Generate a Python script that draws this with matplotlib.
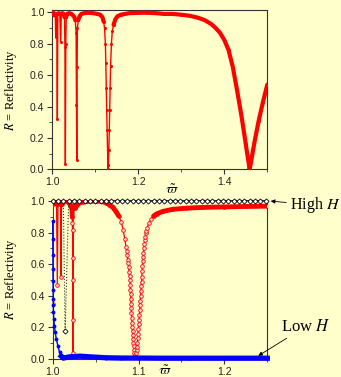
import numpy as np
import matplotlib
matplotlib.use('Agg')
import matplotlib.pyplot as plt
from matplotlib.ticker import MultipleLocator

# Fondo crema de la figura original
fondo = '#ffffcc'

plt.rcParams['font.family'] = ['Liberation Sans', 'DejaVu Sans']
plt.rcParams['mathtext.fontset'] = 'stix'

# Panel superior: reflectividad (una sola serie roja)
w1 = [1.000, 1.002, 1.004, 1.006, 1.0075, 1.0086, 1.0095, 1.011, 1.0124, 1.0135,
      1.016, 1.018, 1.0203, 1.0215, 1.024, 1.027, 1.029, 1.030, 1.031, 1.032,
      1.033, 1.035, 1.040, 1.045, 1.049, 1.052, 1.054, 1.056, 1.0568, 1.0576,
      1.0584, 1.059, 1.061, 1.064, 1.068, 1.075, 1.085, 1.095, 1.105, 1.112,
      1.117, 1.120, 1.122, 1.124, 1.125, 1.126, 1.127, 1.128, 1.129, 1.130,
      1.1305, 1.131, 1.132, 1.133, 1.134, 1.135, 1.136, 1.138, 1.140, 1.143,
      1.147, 1.152, 1.160, 1.180, 1.200, 1.220, 1.240, 1.260, 1.280, 1.300,
      1.320, 1.340, 1.355, 1.370, 1.380, 1.390, 1.400, 1.410, 1.420, 1.430,
      1.440, 1.450, 1.455, 1.459, 1.463, 1.470, 1.480, 1.490, 1.500]
r1 = [0.99, 1.0, 0.995, 0.98, 0.99, 0.845, 0.99, 0.99, 0.32, 0.99,
      0.995, 0.99, 0.81, 0.99, 0.995, 0.99, 0.97, 0.78, 0.034, 0.80,
      0.97, 0.99, 0.995, 0.99, 0.98, 0.97, 0.95, 0.87, 0.41, 0.06,
      0.65, 0.90, 0.95, 0.975, 0.99, 0.995, 0.998, 0.995, 0.99, 0.985,
      0.97, 0.94, 0.90, 0.80, 0.68, 0.52, 0.38, 0.25, 0.12, 0.03,
      0.0, 0.03, 0.12, 0.25, 0.38, 0.52, 0.66, 0.80, 0.88, 0.92,
      0.955, 0.975, 0.985, 0.995, 0.997, 0.998, 0.995, 0.99, 0.99, 0.985,
      0.978, 0.965, 0.95, 0.925, 0.90, 0.87, 0.825, 0.76, 0.65, 0.50,
      0.34, 0.16, 0.07, 0.0, 0.06, 0.17, 0.31, 0.43, 0.54]

# Panel inferior: serie roja (H intermedio)
w2 = [1.000, 1.0006, 1.001, 1.003, 1.0045, 1.0054, 1.0062, 1.008, 1.0092, 1.0097,
      1.0103, 1.012, 1.015, 1.018, 1.020, 1.0225, 1.0228, 1.0230, 1.0231, 1.0232,
      1.0233, 1.0234, 1.0235, 1.0240, 1.025, 1.0265, 1.028, 1.031, 1.035, 1.040,
      1.050, 1.056, 1.062, 1.066, 1.070, 1.074, 1.077, 1.080, 1.082, 1.084,
      1.0855, 1.0862, 1.0868, 1.0874, 1.088, 1.0885, 1.089, 1.0895, 1.0899, 1.0902,
      1.0904, 1.0907, 1.0909, 1.0912, 1.0915, 1.0918, 1.0921, 1.0924, 1.0927, 1.093,
      1.0933, 1.0937, 1.094, 1.0944, 1.0948, 1.0952, 1.0957, 1.0961, 1.0965, 1.0969,
      1.0972, 1.0976, 1.0979, 1.0983, 1.0987, 1.0991, 1.0995, 1.0999, 1.1003, 1.1007,
      1.101, 1.1014, 1.1017, 1.1021, 1.1024, 1.1028, 1.1031, 1.1035, 1.1038, 1.1042,
      1.1046, 1.105, 1.1054, 1.1058, 1.1063, 1.1068, 1.1073, 1.1079, 1.1085, 1.1092,
      1.110, 1.112, 1.1145, 1.1175, 1.1215, 1.1286, 1.140, 1.155, 1.175, 1.200,
      1.225, 1.250]
r2 = [0.35, 0.98, 1.0, 0.995, 0.98, 0.47, 0.98, 0.995, 0.98, 0.52,
      0.98, 0.995, 1.0, 0.995, 0.98, 0.95, 0.90, 0.86, 0.82, 0.64,
      0.50, 0.25, 0.04, 0.96, 0.97, 0.955, 0.975, 0.99, 0.995, 0.998,
      1.0, 0.998, 0.99, 0.978, 0.96, 0.933, 0.905, 0.865, 0.82, 0.76,
      0.71, 0.685, 0.66, 0.63, 0.605, 0.58, 0.55, 0.525, 0.498, 0.47,
      0.44, 0.41, 0.38, 0.35, 0.32, 0.29, 0.26, 0.23, 0.20, 0.175,
      0.15, 0.125, 0.10, 0.08, 0.06, 0.04, 0.025, 0.012, 0.005, 0.008,
      0.015, 0.035, 0.055, 0.078, 0.10, 0.13, 0.16, 0.19, 0.22, 0.25,
      0.28, 0.31, 0.34, 0.37, 0.40, 0.43, 0.46, 0.49, 0.52, 0.555,
      0.59, 0.62, 0.646, 0.672, 0.70, 0.727, 0.752, 0.775, 0.795, 0.812,
      0.83, 0.86, 0.885, 0.905, 0.92, 0.935, 0.948, 0.955, 0.96, 0.963,
      0.966, 0.968]

# Panel inferior: H bajo (azul)
w3 = [1.0000, 1.0001, 1.0002, 1.0003, 1.0004, 1.0005, 1.0006, 1.0007, 1.0009, 1.0012,
      1.0020, 1.0030, 1.0042, 1.0060, 1.0080, 1.0100, 1.0124, 1.0160, 1.0200, 1.0320,
      1.0430, 1.0620, 1.0800, 1.1000, 1.1300, 1.1600, 1.2000, 1.2500]
r3 = [0.875, 0.763, 0.660, 0.568, 0.491, 0.434, 0.381, 0.339, 0.296, 0.254,
      0.212, 0.169, 0.127, 0.085, 0.042, 0.018, 0.006, 0.010, 0.014, 0.018,
      0.014, 0.008, 0.006, 0.006, 0.005, 0.005, 0.005, 0.005]

# Panel inferior: H alto (rombos negros)
w4 = [1.000, 1.0062, 1.0124, 1.0145, 1.0186, 1.0248, 1.031, 1.0372, 1.0434, 1.0496,
      1.0558, 1.062, 1.0682, 1.0744, 1.0806, 1.0868, 1.093, 1.0992, 1.1054, 1.1116,
      1.1178, 1.124, 1.1302, 1.1364, 1.1426, 1.1488, 1.155, 1.1612, 1.1674, 1.1736,
      1.1798, 1.186, 1.1922, 1.1984, 1.2046, 1.2108, 1.217, 1.2232, 1.2294, 1.2356,
      1.2418, 1.248]
r4 = [1.0, 1.0, 1.0, 0.175, 1.0, 1.0, 1.0, 1.0, 1.0, 1.0,
      1.0, 1.0, 1.0, 1.0, 1.0, 1.0, 1.0, 1.0, 1.0, 1.0,
      1.0, 1.0, 1.0, 1.0, 1.0, 1.0, 1.0, 1.0, 1.0, 1.0,
      1.0, 1.0, 1.0, 1.0, 1.0, 1.0, 1.0, 1.0, 1.0, 1.0,
      1.0, 1.0]

w1, r1, w2, r2 = map(np.array, (w1, r1, w2, r2))
w3, r3, w4, r4 = map(np.array, (w3, r3, w4, r4))

fig = plt.figure(figsize=(3.41, 3.77), dpi=100, facecolor=fondo)
ax1 = fig.add_axes([0.1525, 0.5509, 0.6314, 0.4226], facecolor=fondo)
ax2 = fig.add_axes([0.1545, 0.0477, 0.6293, 0.4231], facecolor=fondo)

# Panel superior
ax1.plot(w1, r1, color='red', lw=1.0, marker='o', ms=2.2, mew=0, zorder=3)
grueso1 = np.ma.masked_where(~((r1 > 0.9) | (w1 > 1.3)), r1)
ax1.plot(w1, grueso1, color='red', lw=3.0, solid_capstyle='round', zorder=3)
ax1.set_xlim(1.0, 1.5)
ax1.set_ylim(0, 1.015)
ax1.xaxis.set_major_locator(MultipleLocator(0.2))
ax1.xaxis.set_minor_locator(MultipleLocator(0.1))

# Panel inferior
ax2.plot(w4, r4, color='#333333', lw=0.8, ls=':', marker='D', ms=2.6, mfc='white',
         mec='black', mew=0.6, clip_on=False, zorder=4)
ax2.plot(w2, r2, color='red', lw=0.9, marker='o', ms=2.6, mfc='#ffe0e0', mec='red',
         mew=0.6, zorder=3)
grueso2 = np.ma.masked_where(r2 < 0.9, r2)
ax2.plot(w2, grueso2, color='red', lw=3.5, solid_capstyle='round', zorder=3)
ax2.plot(w3, r3, color='blue', lw=1.0, marker='o', ms=2.8, mew=0, zorder=5, clip_on=False)
grueso3 = np.ma.masked_where(r3 > 0.03, r3)
ax2.plot(w3, grueso3, color='blue', lw=3.8, zorder=5, clip_on=False)
ax2.set_xlim(1.0, 1.25)
ax2.set_ylim(0, 1.01)
ax2.xaxis.set_major_locator(MultipleLocator(0.1))
ax2.xaxis.set_minor_locator(MultipleLocator(0.05))

for ax in (ax1, ax2):
    ax.yaxis.set_major_locator(MultipleLocator(0.2))
    ax.yaxis.set_minor_locator(MultipleLocator(0.1))
    ax.yaxis.set_major_formatter(plt.FuncFormatter(lambda v, p: f'{v:.1f}'))
    ax.xaxis.set_major_formatter(plt.FuncFormatter(lambda v, p: f'{v:.1f}'))
    ax.tick_params(which='major', direction='out', length=3.5, width=0.8,
                   labelsize=7.5, labelcolor='#222222', color='#333333', pad=2)
    ax.tick_params(which='minor', direction='out', length=2, width=0.6, color='#333333')
    for s in ax.spines.values():
        s.set_linewidth(0.8)
        s.set_color('#333333')
    ax.set_ylabel('$R$ = Reflectivity', family='Liberation Serif', fontsize=9)
    ax.set_xlabel(r'$\tilde{\varpi}$', fontsize=10)

ax1.yaxis.set_label_coords(-0.155, 0.5)
ax2.yaxis.set_label_coords(-0.155, 0.5)
ax1.xaxis.set_label_coords(0.557, -0.085)
ax2.xaxis.set_label_coords(0.523, -0.03)

# Anotaciones
flecha = dict(arrowstyle='-|>', color='black', lw=0.6, mutation_scale=6,
              shrinkA=1, shrinkB=0)
ax2.annotate('High $H$', xy=(1.016, 0.99), xycoords='axes fraction',
             xytext=(1.108, 0.965), textcoords='axes fraction',
             ha='left', va='center', fontsize=11.5, family='Liberation Serif',
             arrowprops=flecha, annotation_clip=False)
ax2.annotate('Low $H$', xy=(0.958, 0.02), xycoords='axes fraction',
             xytext=(1.062, 0.2025), textcoords='axes fraction',
             ha='left', va='center', fontsize=12, family='Liberation Serif',
             arrowprops=flecha, annotation_clip=False)

fig.savefig('out.png', dpi=100, facecolor=fondo)
